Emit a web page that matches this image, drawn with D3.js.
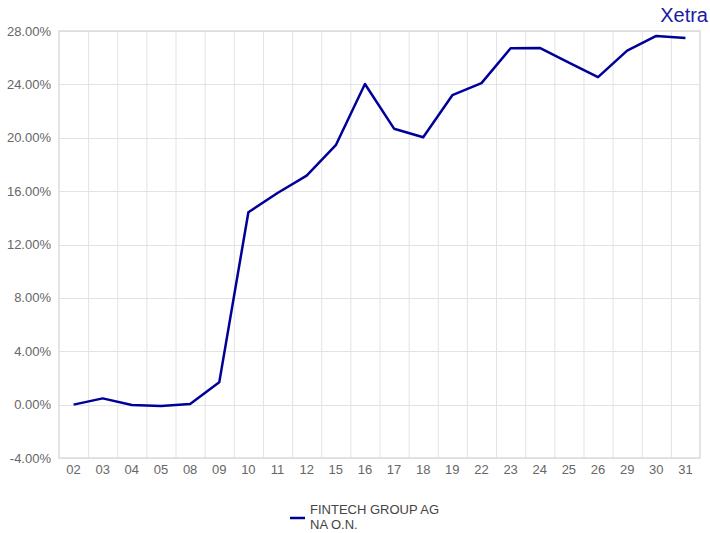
<!DOCTYPE html>
<html><head><meta charset="utf-8">
<script src="https://cdn.jsdelivr.net/npm/d3@7"></script>
<style>body{margin:0;background:#fff;}svg{display:block;font-family:"Liberation Sans",Arial,sans-serif;}</style>
</head><body>
<script>
const categories = ["02","03","04","05","08","09","10","11","12","15","16","17","18","19","22","23","24","25","26","29","30","31"];
const values = [0.0,0.47,-0.03,-0.1,0.05,1.67,14.42,15.86,17.16,19.44,24.03,20.68,20.04,23.19,24.09,26.71,26.73,25.63,24.54,26.53,27.63,27.48];
const yTicks = [-4,0,4,8,12,16,20,24,28];
const seriesName = ["FINTECH GROUP AG","NA O.N."];
const exchange = "Xetra";

const W=710,H=533;
const m={l:59,r:10,t:31,b:75};
const svg=d3.select("body").append("svg").attr("width",W).attr("height",H);
const x=d3.scaleBand().domain(categories).range([m.l,W-m.r]);
const y=d3.scaleLinear().domain([-4,28]).range([H-m.b,m.t]);

const g=svg.append("g");
// vertical grid
g.selectAll("line.v").data(categories.slice(1)).join("line")
 .attr("x1",d=>x(d)+0.5).attr("x2",d=>x(d)+0.5)
 .attr("y1",y(28)).attr("y2",y(-4)).attr("stroke","#e3e3e3").attr("stroke-width",1);
// horizontal grid
g.selectAll("line.h").data(yTicks).join("line")
 .attr("x1",m.l).attr("x2",W-m.r)
 .attr("y1",d=>Math.round(y(d))+0.5).attr("y2",d=>Math.round(y(d))+0.5)
 .attr("stroke","#e3e3e3").attr("stroke-width",1);
// border
g.append("rect").attr("x",m.l).attr("y",y(28)).attr("width",W-m.r-m.l).attr("height",y(-4)-y(28))
 .attr("fill","none").attr("stroke","#dcdcdc").attr("stroke-width",1.5);

// y labels
svg.selectAll("text.y").data(yTicks).join("text")
 .attr("x",51).attr("y",d=>y(d)).attr("dy","0.35em").attr("text-anchor","end")
 .attr("font-size",13).attr("fill","#666").text(d=>d.toFixed(2)+"%");
// x labels
svg.selectAll("text.x").data(categories).join("text")
 .attr("x",d=>x(d)+x.bandwidth()/2).attr("y",474).attr("text-anchor","middle")
 .attr("font-size",13).attr("fill","#666").text(d=>d);

// line
const line=d3.line().x((d,i)=>x(categories[i])+x.bandwidth()/2).y(d=>y(d));
svg.append("path").datum(values).attr("d",line).attr("fill","none")
 .attr("stroke","#000099").attr("stroke-width",2.5).attr("stroke-linejoin","round");

// title
svg.append("text").attr("x",708).attr("y",22).attr("text-anchor","end")
 .attr("font-size",20).attr("fill","#1a1aa6").text(exchange);

// legend
svg.append("line").attr("x1",290).attr("x2",305).attr("y1",518).attr("y2",518)
 .attr("stroke","#000099").attr("stroke-width",2.5);
svg.append("text").attr("x",310).attr("y",513.5).attr("font-size",13).attr("fill","#444").text(seriesName[0]);
svg.append("text").attr("x",310).attr("y",528.5).attr("font-size",13).attr("fill","#444").text(seriesName[1]);
</script>
</body></html>
